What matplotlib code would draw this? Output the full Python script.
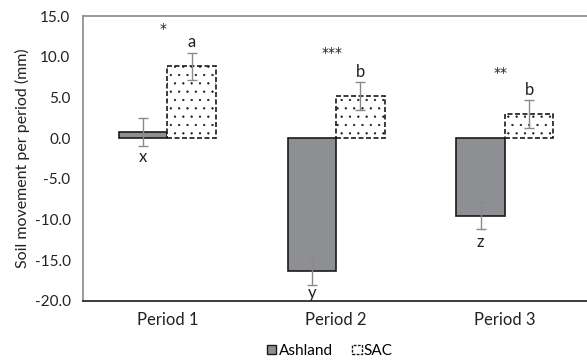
import matplotlib
matplotlib.use("Agg")
import matplotlib.pyplot as plt
import numpy as np
from matplotlib.patches import Patch

plt.rcParams['font.family'] = ['Lato', 'DejaVu Sans']

categories = ["Period 1", "Period 2", "Period 3"]
ashland = [0.75, -16.3, -9.5]
ashland_err = [1.75, 1.7, 1.7]
sac = [8.8, 5.2, 3.0]
sac_err = [1.7, 1.7, 1.7]
sig_labels = ["*", "***", "**"]
sig_y = [13.4, 10.4, 8.0]
sac_letters = ["a", "b", "b"]
sac_letter_y = [11.8, 8.1, 5.9]
ash_letters = ["x", "y", "z"]
ash_letter_y = [-2.3, -19.0, -12.8]
yticks = [15, 10, 5, 0, -5, -10, -15, -20]

fig = plt.figure(figsize=(5.87, 3.6), dpi=100)
ax = fig.add_axes([83/587, 1 - 301/360, 1 - 83/587 + 0.004, (301 - 16)/360])

x = np.arange(len(categories))
w = 0.2875
plt.rcParams['hatch.linewidth'] = 0.4
plt.rcParams['hatch.color'] = '#777777'
ax.bar(x - w/2, ashland, w, color='#8e8f93', edgecolor='#1a1a1a', linewidth=1.2, zorder=2)
ax.bar(x + w/2, sac, w, color='white', edgecolor='#1a1a1a', linewidth=1.2,
       linestyle=(0, (3, 1.5)), hatch='..', zorder=2)
ax.errorbar(x - w/2, ashland, yerr=ashland_err, fmt='none', ecolor='#8a8a8a',
            elinewidth=1.0, capsize=3.5, capthick=1.0, zorder=3)
ax.errorbar(x + w/2, sac, yerr=sac_err, fmt='none', ecolor='#8a8a8a',
            elinewidth=1.0, capsize=3.5, capthick=1.0, zorder=3)

for i in range(len(categories)):
    ax.text(x[i] - 0.025, sig_y[i], sig_labels[i], ha='center', va='center', fontsize=10,
            color='#222222', family='DejaVu Sans')
    ax.text(x[i] + w/2, sac_letter_y[i], sac_letters[i], ha='center', va='center', fontsize=12, color='#222222')
    ax.text(x[i] - w/2, ash_letter_y[i], ash_letters[i], ha='center', va='center', fontsize=12, color='#222222')

ax.set_xlim(-0.5, 2.5)
ax.set_ylim(-20, 15)
ax.set_yticks(yticks)
ax.set_yticklabels([f"{v:.1f}" for v in yticks])
ax.set_xticks(x)
ax.set_xticklabels(categories)
ax.tick_params(axis='both', length=0, labelsize=11, colors='#222222')
ax.tick_params(axis='x', labelsize=12, pad=8)
ax.tick_params(axis='y', pad=9)
ax.set_ylabel("Soil movement per period (mm)", fontsize=11.5, color='#222222', labelpad=3)

for s in ['left', 'top', 'right']:
    ax.spines[s].set_color('#8a8a8a')
    ax.spines[s].set_linewidth(1.2)
ax.spines['bottom'].set_color('#1a1a1a')
ax.spines['bottom'].set_linewidth(1.2)

handles = [Patch(facecolor='#8e8f93', edgecolor='#1a1a1a', label='Ashland'),
           Patch(facecolor='white', edgecolor='#1a1a1a', linestyle=(0, (2, 1)), label='SAC')]
fig.legend(handles=handles, loc='center', bbox_to_anchor=(330/587, 1 - 351/360), ncol=2,
           frameon=False, fontsize=11, handlelength=0.6, handleheight=0.6,
           handletextpad=0.15, columnspacing=1.3, borderpad=0)

fig.savefig("out.png", dpi=100)
